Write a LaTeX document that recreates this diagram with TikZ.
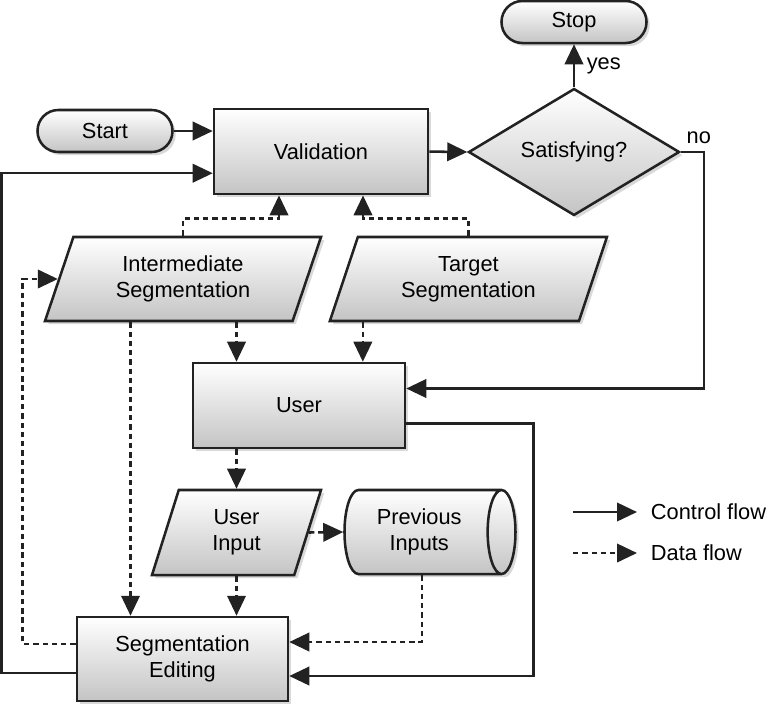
\documentclass[tikz,border=0pt]{standalone}
\usepackage{fontspec}
\setmainfont{Liberation Sans}
\usepackage{tikz}
\usetikzlibrary{shapes,shapes.geometric,arrows.meta,positioning,calc,shadows}

\definecolor{linegray}{HTML}{222222}
\definecolor{shadegray}{HTML}{C4C4C4}

\begin{document}
\begin{tikzpicture}[
    font=\fontsize{15.5}{18.5}\selectfont,
    node distance=1cm,
    box/.style={draw=linegray, line width=1.8pt, top color=white, bottom color=shadegray, drop shadow={shadow xshift=0.08cm, shadow yshift=-0.08cm, opacity=0.3}, align=center},
    proc/.style={box, rectangle, minimum width=5.3cm, minimum height=2.1cm},
    term/.style={box, rectangle, rounded corners=0.52cm, minimum height=1.05cm},
    iobox/.style={box, trapezium, trapezium left angle=63, trapezium right angle=117, trapezium stretches body, minimum height=2.1cm},
    ctrl/.style={draw=linegray, line width=1.8pt, -{Triangle[length=0.5cm, width=0.46cm]}},
    data/.style={ctrl, dash pattern=on 3.8pt off 2.8pt}
]
    \useasboundingbox (0,0) rectangle (19.325,-17.775);

    \node [term, minimum width=3.375cm] (start) at (2.625,-3.275) {Start};
    \node [proc, minimum width=5.35cm, minimum height=2.125cm] (valid) at (8.025,-3.79) {Validation};
    \node [box, diamond, minimum width=5.275cm, minimum height=3.15cm, inner sep=0pt] (sat) at (14.35,-3.8) {Satisfying?};
    \node [term, minimum width=3.625cm, above=1.075cm of sat] (stop) {Stop};
    \node [iobox, minimum width=6.9cm] (inter) at (4.575,-6.975) {Intermediate\\Segmentation};
    \node [iobox, minimum width=6.925cm] (target) at (11.71,-6.975) {Target\\Segmentation};
    \node [proc, minimum height=2.125cm] (user) at (7.475,-10.1375) {User};
    \node [iobox, minimum width=4.225cm, minimum height=2.125cm, trapezium left angle=64, trapezium right angle=116] (uin) at (5.9125,-13.3125) {User\\Input};
    \node [box, cylinder, aspect=0.5, minimum width=2.1cm, minimum height=4.275cm] (prev) at (10.48,-13.3) {Previous\\Inputs};
    \node [proc, minimum width=5.275cm] (edit) at (4.5625,-16.475) {Segmentation\\Editing};

    \draw [ctrl] (start.east) -- (start.east -| valid.west);
    \draw [ctrl] (valid.east) -- (sat.west);
    \draw [ctrl] (sat.north) -- node [right=0.17cm] {yes} (stop.south);
    \draw [ctrl] (sat.east) node [above right=0.05cm and 0cm] {no} -- ++(0.575,0) |- ([yshift=0.425cm]user.east);
    \draw [ctrl] ([yshift=-0.45cm]user.east) -- ++(3.175,0) |- ([yshift=-0.425cm]edit.east);
    \draw [ctrl] ([yshift=-0.35cm]edit.west) -- ++(-1.85,0) |- ([yshift=-0.54cm]valid.west);

    \draw [data] (inter.center |- inter.north) -- ++(0,0.425) -| ([xshift=-1.05cm]valid.south);
    \draw [data] (target.center |- target.north) -- ++(0,0.425) -| ([xshift=1.05cm]valid.south);
    \draw [data] (inter.south -| uin.center) -- (user.north -| uin.center);
    \draw [data] ([xshift=-2.64cm]target.south) -- ([xshift=-2.64cm]target.south |- user.north);
    \draw [data] ([xshift=-1.3cm]edit.north |- inter.south) -- ([xshift=-1.3cm]edit.north);
    \draw [data] (user.south -| uin.center) -- (uin.center |- uin.north);
    \draw [data] (uin.center |- uin.south) -- (uin.center |- edit.north);
    \draw [data] (uin.east) -- (prev.west);
    \draw [data] ([xshift=0.07cm]prev.south) |- ([yshift=0.425cm]edit.east);
    \draw [data] ([yshift=0.375cm]edit.west) -- ++(-1.325,0) |- (inter.west);

    \coordinate (lc) at (14.325,-12.8);
    \coordinate [right=1.6cm of lc] (lcend);
    \coordinate [below=1.025cm of lc] (ld);
    \coordinate [right=1.6cm of ld] (ldend);
    \draw [ctrl] (lc) -- (lcend);
    \draw [data] (ld) -- (ldend);
    \node [right=0.225cm of lcend] (ctrltxt) {Control flow};
    \node [right=0.225cm of ldend] (datatxt) {Data flow};
\end{tikzpicture}
\end{document}
